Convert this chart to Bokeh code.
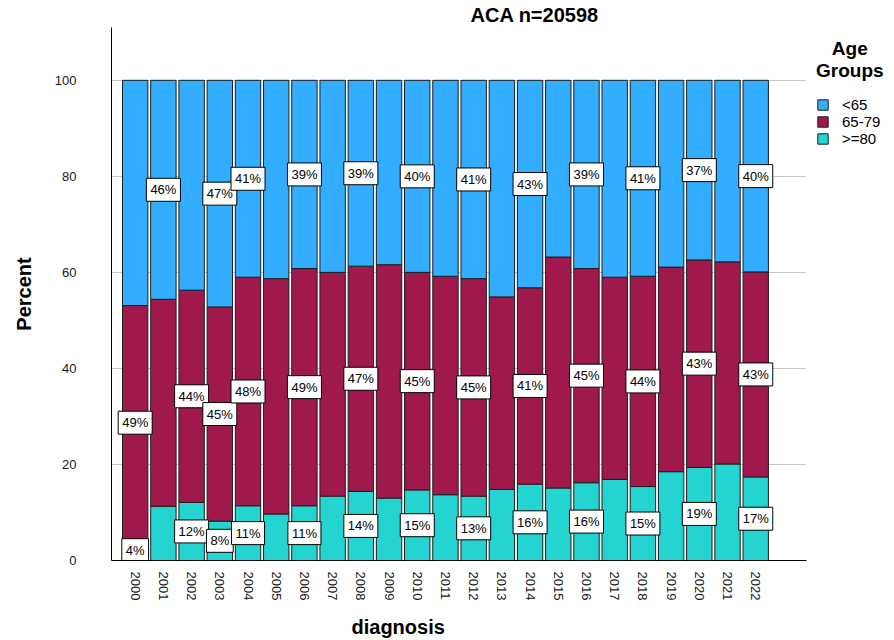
from bokeh.plotting import figure
from bokeh.models import (ColumnDataSource, FixedTicker, Legend, LegendItem,
                          Title, Range1d)
from bokeh.core.properties import value
from bokeh.embed import file_html
from bokeh.resources import INLINE

# ---- data ----
years = list(range(2000, 2023))
over80 = [4.3, 11.3, 12.1, 8.2, 11.4, 9.7, 11.4, 13.4, 14.4, 13.0, 14.7, 13.7,
          13.4, 14.8, 15.9, 15.1, 16.2, 16.9, 15.4, 18.5, 19.4, 20.1, 17.4]
mid = [48.8, 43.1, 44.2, 44.6, 47.6, 49.0, 49.4, 46.6, 46.9, 48.6, 45.3, 45.5,
       45.3, 40.1, 40.9, 48.1, 44.6, 42.1, 43.8, 42.6, 43.2, 42.1, 42.7]
under65 = [46.9, 45.6, 43.7, 47.2, 41.0, 41.3, 39.2, 40.0, 38.7, 38.4, 40.0, 40.8,
           41.3, 45.1, 43.2, 36.8, 39.2, 41.0, 40.8, 38.9, 37.4, 37.8, 39.9]
series_names = ["<65", "65-79", ">=80"]
tick_labels = [str(y) for y in years]
labeled_under65 = [2001, 2003, 2004] + list(range(2006, 2023, 2))
labeled_mid = [2000, 2002, 2003, 2004] + list(range(2006, 2023, 2))
labeled_over80 = [2000, 2002, 2003, 2004] + list(range(2006, 2023, 2))

colors = {"<65": "#33adff", "65-79": "#a0194c", ">=80": "#23d4d0"}
FONT = "Liberation Sans"

p = figure(frame_width=695, frame_height=533, output_backend="svg",
           toolbar_location=None,
           x_range=Range1d(1999.16, 2023.8), y_range=Range1d(0, 111),
           min_border_left=111, min_border_right=88, min_border_top=27,
           min_border_bottom=80)
p.outline_line_color = None
p.background_fill_color = "white"

src = ColumnDataSource(dict(year=years, over80=over80, mid=mid, under65=under65))
rs = p.vbar_stack(["over80", "mid", "under65"], x="year", width=0.9, source=src,
                  fill_color=[colors[">=80"], colors["65-79"], colors["<65"]],
                  line_color="#1e1e1e", line_width=1)

# segment labels
def add_labels(labeled, vals, bottoms):
    xs, ys, ts = [], [], []
    for yr in labeled:
        i = years.index(yr)
        xs.append(yr)
        ys.append(bottoms[i] + vals[i] / 2.0)
        ts.append(f"{round(vals[i])}%")
    s = ColumnDataSource(dict(x=xs, y=ys, t=ts))
    p.text(x="x", y="y", text="t", source=s, text_align="center",
           text_baseline="middle", text_font=value(FONT),
           text_font_size=value("13px"), text_color="black",
           background_fill_color="white", border_line_color="black",
           border_line_width=1, padding=4)

zeros = [0] * len(years)
mid_bottom = over80
top_bottom = [a + b for a, b in zip(over80, mid)]
add_labels(labeled_over80, over80, zeros)
add_labels(labeled_mid, mid, mid_bottom)
add_labels(labeled_under65, under65, top_bottom)

# axes
p.xgrid.grid_line_color = None
p.ygrid.grid_line_color = "#c8c8c8"
p.ygrid.ticker = FixedTicker(ticks=[0, 20, 40, 60, 80, 100])
p.yaxis.ticker = FixedTicker(ticks=[0, 20, 40, 60, 80, 100])
p.xaxis.ticker = FixedTicker(ticks=years)
p.xaxis.major_label_overrides = {y: t for y, t in zip(years, tick_labels)}
p.xaxis.major_label_orientation = -1.5708
for ax in (p.xaxis, p.yaxis):
    ax.major_tick_line_color = None
    ax.minor_tick_line_color = None
    ax.axis_line_color = "black"
    ax.major_label_text_font = FONT
    ax.major_label_text_font_size = "13px"
    ax.major_label_text_color = "#1a1a1a"
p.xaxis.major_label_standoff = 5
p.yaxis.major_label_standoff = 29
p.yaxis.axis_label = "Percent"
p.yaxis.axis_label_text_font = FONT
p.yaxis.axis_label_text_font_size = "20px"
p.yaxis.axis_label_text_font_style = "bold"
p.yaxis.axis_label_text_color = "black"
p.yaxis.axis_label_standoff = 17

p.title.text = "ACA n=20598"
p.title.align = "left"
p.title.offset = 359
p.title.text_font = FONT
p.title.text_font_size = "20px"
p.title.text_font_style = "bold"
p.title.text_color = "black"
p.title.standoff = 3

xt = Title(text="diagnosis", align="left", offset=240, text_font=FONT,
           text_font_size="20px", text_font_style="bold", text_color="black",
           standoff=20)
p.add_layout(xt, "below")

legend = Legend(items=[LegendItem(label="<65", renderers=[rs[2]]),
                       LegendItem(label="65-79", renderers=[rs[1]]),
                       LegendItem(label=">=80", renderers=[rs[0]])],
                title="\u00a0\u00a0\u00a0Age\nGroups", location=(10, 413),
                title_text_font=FONT, title_text_font_size="19px",
                title_text_font_style="bold", title_text_color="black",
                title_text_line_height=1.0, title_standoff=14,
                label_text_font=FONT, label_text_font_size="15px",
                label_text_color="black",
                glyph_width=13, glyph_height=13, label_height=13, spacing=0,
                label_standoff=13, padding=6, margin=2,
                border_line_color=None, background_fill_alpha=0)
p.add_layout(legend, "right")

open("out.html", "w").write(file_html(p, INLINE))
